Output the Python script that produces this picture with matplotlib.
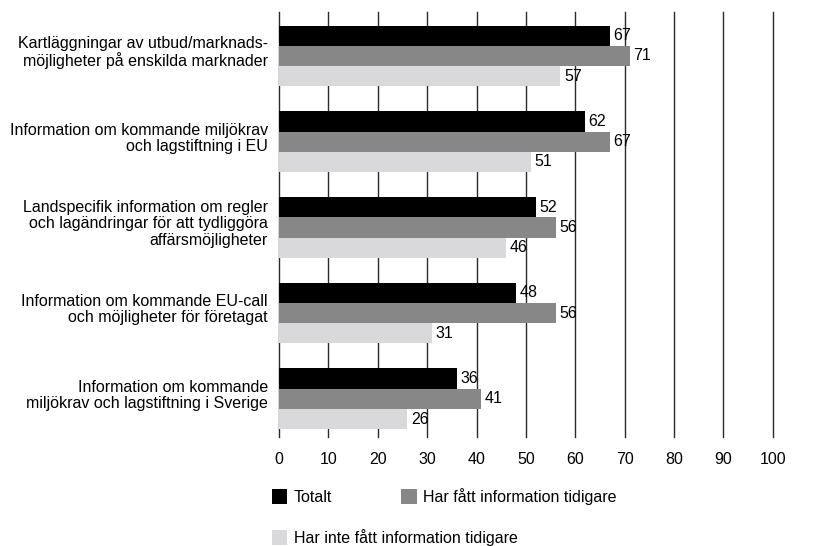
import numpy as np
import matplotlib.pyplot as plt
import matplotlib.transforms as mtransforms
from matplotlib.patches import Patch

plt.rcParams['font.family'] = ['Liberation Sans', 'DejaVu Sans']

# Data
categories = [
    "Kartläggningar av utbud/marknads-\nmöjligheter på enskilda marknader",
    "Information om kommande miljökrav\noch lagstiftning i EU",
    "Landspecifik information om regler\noch lagändringar för att tydliggöra\naffärsmöjligheter",
    "Information om kommande EU-call\noch möjligheter för företagat",
    "Information om kommande\nmiljökrav och lagstiftning i Sverige",
]
totalt = [67, 62, 52, 48, 36]
har_fatt = [71, 67, 56, 56, 41]
har_inte_fatt = [57, 51, 46, 31, 26]
series_names = ["Totalt", "Har fått information tidigare",
                "Har inte fått information tidigare"]
x_ticks = list(range(0, 101, 10))

colors = ["#000000", "#878787", "#d9d9db"]
fs = 11.5

fig = plt.figure(figsize=(8.23, 5.46), dpi=100)
ax = fig.add_axes([0.339, 0.2, 0.6, 0.778])

y = np.arange(len(categories))
h = 0.236
for i, (vals, col) in enumerate(zip([totalt, har_fatt, har_inte_fatt], colors)):
    pos = y + (i - 1) * h
    ax.barh(pos, vals, height=h, color=col, zorder=2)
    for p, v in zip(pos, vals):
        ax.text(v + 0.7, p, str(v), va='center', ha='left', fontsize=fs, zorder=3)

# grid lines
for xv in x_ticks:
    ax.axvline(xv, color='#2a2a2a', lw=1, zorder=1, clip_on=False)

ax.set_xlim(0, 100)
ax.set_ylim(4.443, -0.513)
ax.set_xticks(x_ticks)
ax.set_yticks(y)
ax.set_yticklabels(categories, fontsize=fs, linespacing=1.1)
ax.tick_params(axis='both', length=0, labelsize=fs)
ax.tick_params(axis='x', pad=11)
ax.tick_params(axis='y', pad=8)
for s in ax.spines.values():
    s.set_visible(False)

# nudge category labels up a little
shift = mtransforms.ScaledTranslation(0, 4 / 72, fig.dpi_scale_trans)
for lab in ax.get_yticklabels():
    lab.set_transform(lab.get_transform() + shift)

# legend
handles = [Patch(facecolor=c, edgecolor='none') for c in colors]
leg_kw = dict(loc='upper left', frameon=False, fontsize=fs,
              handlelength=0.95, handleheight=1.05, handletextpad=0.4,
              borderpad=0, borderaxespad=0)
fig.legend(handles[:2], series_names[:2], ncol=2, columnspacing=4.35,
           bbox_to_anchor=(0.3305, 0.106), **leg_kw)
fig.legend(handles[2:], series_names[2:],
           bbox_to_anchor=(0.3305, 0.031), **leg_kw)

fig.savefig("out.png", dpi=100)
